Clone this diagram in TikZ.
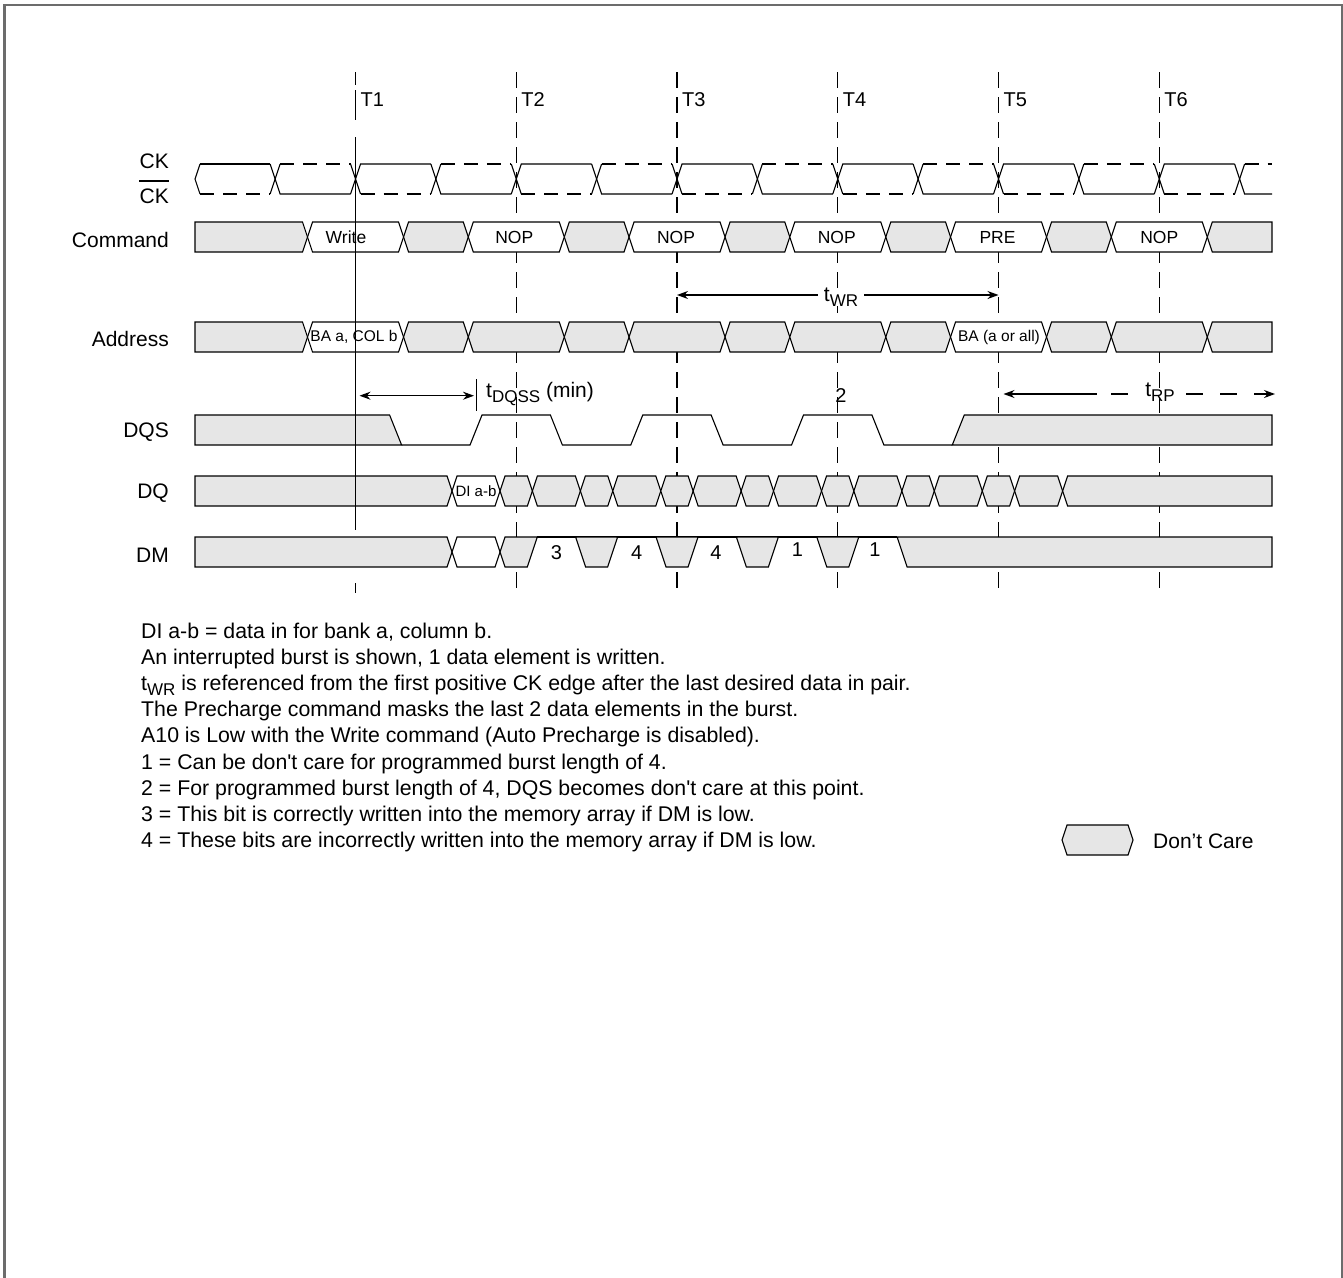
\documentclass[tikz,border=0pt]{standalone}
\usepackage{fontspec}
\setmainfont{Liberation Sans}
\usetikzlibrary{arrows.meta}
\definecolor{dcgray}{RGB}{230,230,230}
\definecolor{framegray}{RGB}{108,108,108}
\newcommand\Hex[4]{\draw[#1] (#2,#4+15) -- (#2+5,#4) -- (#3-5,#4) -- (#3,#4+15) -- (#3-5,#4+30) -- (#2+5,#4+30) -- cycle;}
\newcommand\Lcell[3]{\draw[#1] (195,#3) -- (#2-5,#3) -- (#2,#3+15) -- (#2-5,#3+30) -- (195,#3+30) -- cycle;}
\newcommand\Rcell[3]{\draw[#1] (1272,#3) -- (#2+5,#3) -- (#2,#3+15) -- (#2+5,#3+30) -- (1272,#3+30) -- cycle;}
\newcommand\tsub[1]{t\raisebox{-5pt}{\fontsize{17}{17}\selectfont #1}}
\begin{document}
\begin{tikzpicture}[x=1pt,y=-1pt,
  sig/.style={line width=1.1pt},
  dc/.style={sig,fill=dcgray},
  wc/.style={sig,fill=white},
  ckd/.style={line width=1.1pt,dash pattern=on 14pt off 9pt},
  tline/.style={line width=1.1pt,dash pattern=on 16pt off 9pt},
  lbl/.style={font=\fontsize{21}{25}\selectfont,anchor=east,inner sep=0pt},
  tlbl/.style={font=\fontsize{20}{24}\selectfont,anchor=west,inner sep=0pt},
  cmdtxt/.style={font=\fontsize{17.5}{20}\selectfont,inner sep=0pt},
  adrtxt/.style={font=\fontsize{15.5}{18}\selectfont,inner sep=0pt},
  numtxt/.style={font=\fontsize{20}{24}\selectfont,inner sep=0pt},
  note/.style={font=\fontsize{21.3}{26}\selectfont,anchor=base west,inner sep=0pt},
  tim/.style={font=\fontsize{21}{25}\selectfont,inner sep=0pt},
  arr/.style={line width=1.1pt,{Stealth[length=11pt,width=8pt]}-{Stealth[length=11pt,width=8pt]}},
  arrl/.style={line width=1.1pt,{Stealth[length=11pt,width=8pt]}-},
  arrr/.style={line width=1.1pt,-{Stealth[length=11pt,width=8pt]}},
]
\useasboundingbox (0,0) rectangle (1343,1277);
% frame
\draw[framegray,line width=2.4pt] (4.5,1290) -- (4.5,5) -- (1342,5) -- (1342,1290);

% clock reference lines (beneath)
\foreach \t in {516.25,677,837.75,998.5,1159.25} {\draw[tline] (\t,72) -- (\t,593);}
\draw[sig] (355.5,72) -- (355.5,85) (355.5,90) -- (355.5,120) (355.5,583) -- (355.5,593);
\foreach \t [count=\i] in {355.5,516.25,677,837.75,998.5,1159.25} {
  \node[tlbl] (T\i) at (\t+5,100) {T\i};
}

% left labels
\node[lbl] (lck) at (169,161.7) {CK};
\node[lbl] (lckb) at (169,196.7) {CK};
\draw[line width=1.7pt] ([yshift=8pt]lckb.north west) -- ([yshift=8pt]lckb.north east);
\node[lbl] (lcmd) at (169,240) {Command};
\node[lbl] (ladr) at (169,339) {Address};
\node[lbl] (ldqs) at (169,432) {DQS};
\node[lbl] (ldq) at (169,493) {DQ};
\node[lbl] (ldm) at (169,555) {DM};

% CK / CK#
\draw[sig] (200,164) -- (195,179) -- (200,194);
\draw[sig] (200,164) -- (270.125,164);
\draw[ckd] (200,194) -- (270.125,194);
\foreach \k in {0,...,12} {
  \pgfmathsetmacro\e{275.125+80.375*\k}
  \pgfmathsetmacro\nx{min(\e+75.375,1272)}
  \ifodd\k
    \draw[sig] (\e-5,194) -- (\e+5,164) -- (\nx,164);
    \draw[sig] (\e-5,164) -- (\e+5,194);
    \draw[ckd] (\e+5,194) -- (\nx,194);
  \else
    \draw[sig] (\e-5,164) -- (\e+5,194) -- (\nx,194);
    \draw[sig] (\e-5,194) -- (\e+5,164);
    \draw[ckd] (\e+5,164) -- (\nx,164);
  \fi
}

% Command
\Lcell{dc}{307.5}{222}
\foreach \t in {355.5,516.25,677,837.75,998.5} {\Hex{dc}{\t+48}{\t+112.75}{222}}
\Rcell{dc}{1207.25}{222}
\foreach \t/\dx/\txt [count=\i] in {355.5/-9.5/Write,516.25/-2/NOP,677/-1/NOP,837.75/-1/NOP,998.5/-1/PRE,1159.25/0/NOP} {
  \Hex{wc}{\t-48}{\t+48}{222}
  \node[cmdtxt] (cmd\i) at (\t+\dx,237) {\txt};
}

% Address
\Lcell{dc}{307.5}{322}
\foreach \t in {355.5,516.25,677,837.75,998.5} {\Hex{dc}{\t+48}{\t+112.75}{322}}
\foreach \t in {516.25,677,837.75,1159.25} {\Hex{dc}{\t-48}{\t+48}{322}}
\Rcell{dc}{1207.25}{322}
\Hex{wc}{307.5}{403.5}{322}
\Hex{wc}{950.5}{1046.5}{322}
\node[adrtxt] (adr1) at (354,337) {BA a, COL b};
\node[adrtxt] (adr2) at (999,337) {BA (a or all)};

% tWR
\coordinate (wrA) at (677,295);
\coordinate (wrB) at (998.5,295);
\draw[arr] (wrA) -- (wrB);
\node[tim,fill=white,inner xsep=6pt] (twr) at (841,297) {\tsub{WR}};

% tDQSS
\coordinate (dqA) at (359.5,395.7);
\coordinate (dqB) at (474,395.7);
\draw[arr] (dqA) -- (dqB);
\coordinate (tkA) at (476.3,379);
\coordinate (tkB) at (476.3,411);
\draw[sig] (tkA) -- (tkB);
\node[tim,anchor=west] (tdqss) at (486,394) {\tsub{DQSS} (min)};

% tRP
\coordinate (rpA) at (1003.5,394);
\coordinate (rpB) at (1097,394);
\coordinate (rpC) at (1111,394);
\coordinate (rpD) at (1128,394);
\coordinate (rpE) at (1186,394);
\coordinate (rpF) at (1275,394);
\draw[arrl] (rpA) -- (rpB);
\draw[sig] (rpC) -- (rpD);
\draw[arrr,dash pattern=on 17pt off 17pt] (rpE) -- (rpF);
\node[tim] (trp) at (1160,392) {\tsub{RP}};

\node[numtxt] (n2) at (841,396) {2};

% DQS
\draw[dc] (195,415) -- (389.6,415) -- (401.6,445) -- (195,445) -- cycle;
\draw[sig] (401.6,445) -- (470,445) -- (482,415) -- (550.4,415) -- (562.4,445) -- (630.75,445) -- (642.75,415) -- (711.1,415) -- (723.1,445) -- (791.5,445) -- (803.5,415) -- (871.9,415) -- (883.9,445) -- (952.25,445);
\draw[dc] (952.25,445) -- (964.25,415) -- (1272,415) -- (1272,445) -- cycle;

% DQ
\Lcell{dc}{452}{476}
\Hex{wc}{452}{500}{476}
\node[adrtxt,font=\fontsize{15}{18}\selectfont] (dia) at (476,491) {DI a-b};
\foreach \k in {1,...,7} {
  \pgfmathsetmacro\e{476+80.375*\k}
  \Hex{dc}{\e-56.375}{\e-24}{476}
  \Hex{dc}{\e-24}{\e+24}{476}
}
\Rcell{dc}{1062.625}{476}

% DM
\Lcell{dc}{452}{537}
\Hex{wc}{452}{500}{537}
\draw[dc] (500,552) -- (505,537) -- (537.25,537) -- (527.25,567) -- (505,567) -- cycle;
\draw[sig] (537.25,537) -- (897.1,537);
\foreach \c in {596.625,677,757.375,837.75} {
  \draw[dc] (\c-21,537) -- (\c-11,567) -- (\c+11,567) -- (\c+21,537) -- cycle;
}
\draw[dc] (897.1,537) -- (907.1,567) -- (1272,567) -- (1272,537) -- cycle;
\node[numtxt] (m1) at (556.4,553) {3};
\node[numtxt] (m2) at (636.75,553) {4};
\node[numtxt] (m3) at (716,553) {4};
\node[numtxt] (m4) at (797.5,550) {1};
\node[numtxt] (m5) at (875,550) {1};

% T1 solid on top
\draw[sig] (355.5,137) -- (355.5,530);

% notes
\node[note] (nt1) at (141,638) {DI a-b = data in for bank a, column b.};
\node[note] (nt2) at (141,664.2) {An interrupted burst is shown, 1 data element is written.};
\node[note] (nt3) at (141,690.4) {\tsub{WR} is referenced from the first positive CK edge after the last desired data in pair.};
\node[note] (nt4) at (141,716.6) {The Precharge command masks the last 2 data elements in the burst.};
\node[note] (nt5) at (141,742.8) {A10 is Low with the Write command (Auto Precharge is disabled).};
\node[note] (nt6) at (141,769) {1 = Can be don\textquotesingle t care for programmed burst length of 4.};
\node[note] (nt7) at (141,795.2) {2 = For programmed burst length of 4, DQS becomes don\textquotesingle t care at this point.};
\node[note] (nt8) at (141,821.4) {3 = This bit is correctly written into the memory array if DM is low.};
\node[note] (nt9) at (141,847.6) {4 = These bits are incorrectly written into the memory array if DM is low.};

% legend
\draw[dc] (1062,840) -- (1067,825) -- (1128,825) -- (1133,840) -- (1128,855) -- (1067,855) -- cycle;
\node[tim,anchor=west] (dcare) at (1153,841.5) {Don’t Care};
\end{tikzpicture}
\end{document}
